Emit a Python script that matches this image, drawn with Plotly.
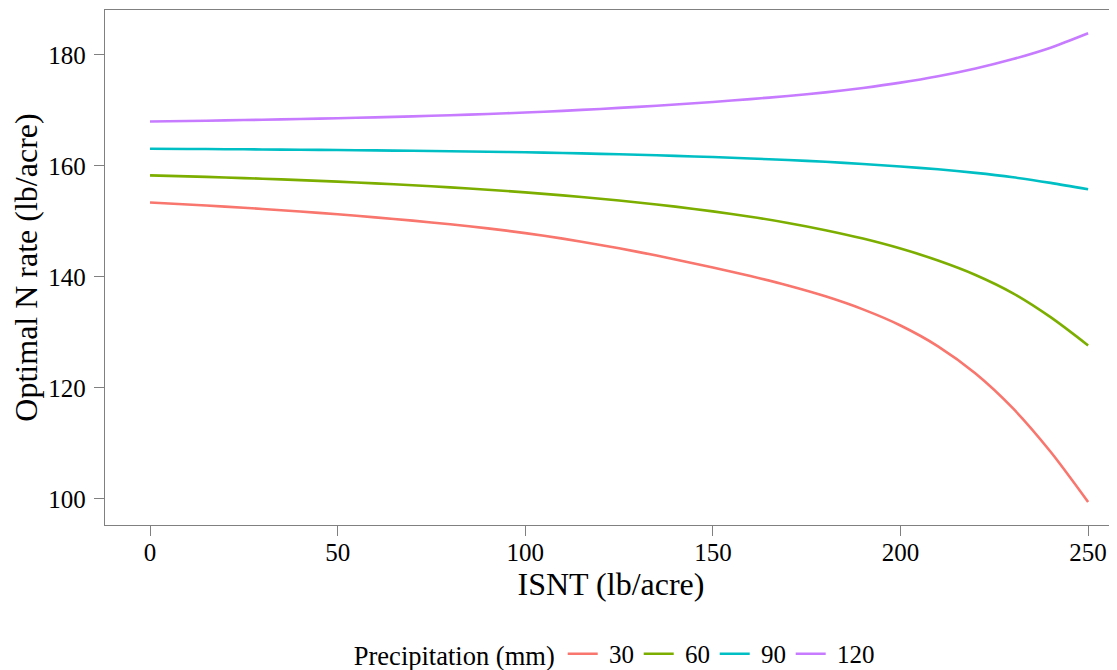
import plotly.graph_objects as go

isnt = [0, 10, 20, 30, 40, 50, 60, 70, 80, 90, 100, 110, 120, 130, 140, 150,
        160, 170, 180, 190, 200, 210, 220, 230, 240, 250]
precip_labels = ["30", "60", "90", "120"]
n_30 = [153.4, 153.05, 152.67, 152.25, 151.79, 151.29, 150.74, 150.14, 149.48, 148.75,
        147.9, 146.9, 145.77, 144.52, 143.15, 141.7, 140.15, 138.45, 136.5, 134.15,
        131.25, 127.5, 122.6, 116.3, 108.5, 99.45]
n_60 = [158.3, 158.12, 157.92, 157.7, 157.45, 157.17, 156.86, 156.52, 156.14, 155.71,
        155.23, 154.69, 154.09, 153.42, 152.67, 151.82, 150.85, 149.73, 148.43, 146.91,
        145.11, 142.96, 140.36, 137.05, 132.75, 127.66]
n_90 = [163.1, 163.06, 163.02, 162.97, 162.92, 162.86, 162.8, 162.73, 162.65, 162.56,
        162.46, 162.33, 162.18, 162.01, 161.82, 161.6, 161.35, 161.06, 160.75, 160.35,
        159.9, 159.4, 158.75, 157.95, 156.95, 155.8]
n_120 = [168.0, 168.1, 168.21, 168.33, 168.46, 168.6, 168.76, 168.94, 169.14, 169.37,
         169.63, 169.93, 170.27, 170.65, 171.07, 171.53, 172.04, 172.61, 173.26, 174.06,
         175.01, 176.16, 177.56, 179.26, 181.31, 183.91]
series = [n_30, n_60, n_90, n_120]
colors = ["#F8766D", "#7CAE00", "#00BFC4", "#C77CFF"]

FONT = "Liberation Serif"
W, H = 1109, 662  # page body adds an 8px margin

fig = go.Figure()
for i, (lab, ys, c) in enumerate(zip(precip_labels, series, colors)):
    last = i == len(precip_labels) - 1
    fig.add_trace(go.Scatter(
        x=isnt, y=ys, mode="lines", name="\u00a0" + lab,
        line=dict(color=c, width=2.6, shape="spline", smoothing=0.8),
        legendwidth=50 if last else 31,
    ))

axis_common = dict(
    showgrid=False, zeroline=False, showline=True, linecolor="#808080", linewidth=1.3,
    ticks="outside", ticklen=10, tickcolor="#808080", tickwidth=1.3,
    tickfont=dict(family=FONT, size=25, color="black"),
    automargin=False,
)

fig.update_layout(
    width=W, height=H,
    paper_bgcolor="white", plot_bgcolor="white",
    margin=dict(l=97, r=0, t=2, b=145, autoexpand=False),
    font=dict(family=FONT, color="black"),
    xaxis=dict(range=[-12, 257.7], tickvals=[0, 50, 100, 150, 200, 250], mirror=True,
               ticklabelstandoff=-5,
               title=dict(text="ISNT (lb/acre)", font=dict(family=FONT, size=32), standoff=0),
               **axis_common),
    yaxis=dict(range=[95.3, 188.1], tickvals=[100, 120, 140, 160, 180],
               ticklabelstandoff=3,
               title=dict(text="Optimal N rate (lb/acre)", font=dict(family=FONT, size=32), standoff=4),
               **axis_common),
    legend=dict(
        orientation="h", x=0.310, xanchor="left", xref="container",
        y=0.0242, yanchor="middle", yref="container",
        title=dict(text="Precipitation (mm)", font=dict(family=FONT, size=26.5), side="left"),
        font=dict(family=FONT, size=25),
        itemwidth=30, tracegroupgap=0,
        entrywidthmode="pixels",
    ),
)

fig.write_html("out.html")
